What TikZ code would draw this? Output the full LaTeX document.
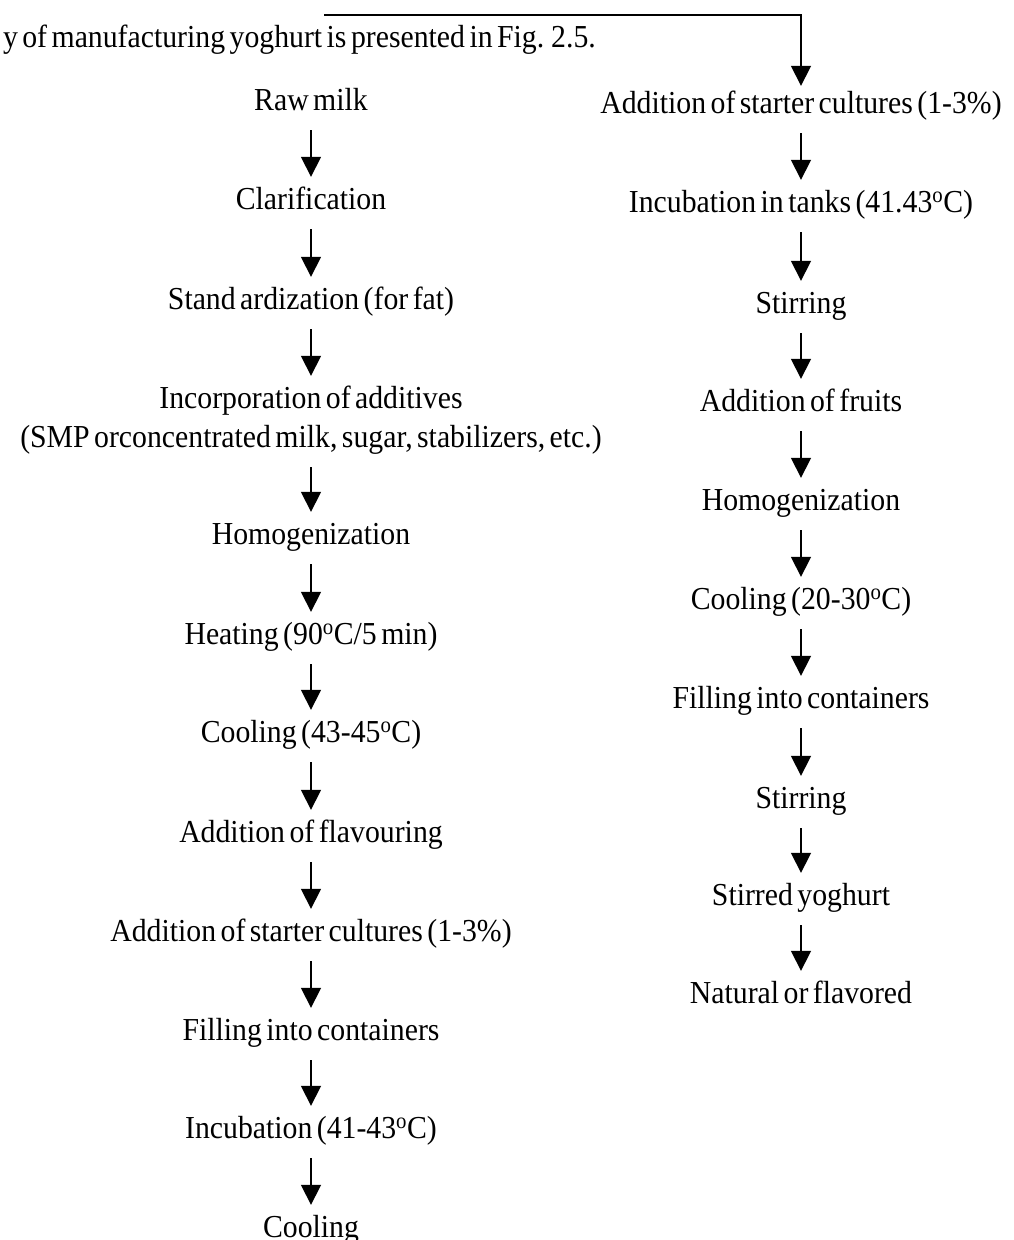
\documentclass[tikz,border=0pt]{standalone}
\usepackage{fontspec}
\setmainfont{Liberation Serif}[WordSpace=0.6, FakeStretch=0.93]
\usetikzlibrary{arrows.meta}
\newcommand{\dg}{\textsuperscript{o}}
\begin{document}
\begin{tikzpicture}[x=1pt,y=-1pt,
  txt/.style={inner sep=0pt, anchor=base, text height=22pt, text depth=0pt,
    font=\fontsize{32}{38}\selectfont},
  flow/.style={line width=1.7pt, -{Triangle[width=20pt,length=20pt]},
    shorten <=20pt, shorten >=10pt},
  link/.style={line width=1.7pt, -{Triangle[width=20pt,length=20pt]}, shorten >=5pt}]
\useasboundingbox (0,0) rectangle (1013,1240);
% intro text
\node[txt, anchor=base east] (intro) at (596,47) {y of manufacturing yoghurt is presented in Fig. 2.5.};
% left column
\node[txt] (l1) at (311,110) {Raw milk};
\node[txt] (l2) at (311,209) {Clarification};
\node[txt] (l3) at (311,309) {Stand ardization (for fat)};
\node[txt] (l4) at (311,408) {Incorporation of additives};
\node[txt] (l4b) at (311,447) {(SMP orconcentrated milk, sugar, stabilizers, etc.)};
\node[txt] (l5) at (311,544) {Homogenization};
\node[txt] (l6) at (311,644) {Heating (90\dg C/5 min)};
\node[txt] (l7) at (311,742) {Cooling (43-45\dg C)};
\node[txt] (l8) at (311,842) {Addition of flavouring};
\node[txt] (l9) at (311,941) {Addition of starter cultures (1-3\%)};
\node[txt] (l10) at (311,1040) {Filling into containers};
\node[txt] (l11) at (311,1138) {Incubation (41-43\dg C)};
\node[txt] (l12) at (311,1237) {Cooling};
\draw[flow] (l1.south) -- (l2.north);
\draw[flow] (l2.south) -- (l3.north);
\draw[flow] (l3.south) -- (l4.north);
\draw[flow] (l4b.south) -- (l5.north);
\draw[flow] (l5.south) -- (l6.north);
\draw[flow] (l6.south) -- (l7.north);
\draw[flow] (l7.south) -- (l8.north);
\draw[flow] (l8.south) -- (l9.north);
\draw[flow] (l9.south) -- (l10.north);
\draw[flow] (l10.south) -- (l11.north);
\draw[flow] (l11.south) -- (l12.north);
% right column
\node[txt] (r1) at (801,113) {Addition of starter cultures (1-3\%)};
\node[txt] (r2) at (801,212) {Incubation in tanks (41.43\dg C)};
\node[txt] (r3) at (801,313) {Stirring};
\node[txt] (r4) at (801,411) {Addition of fruits};
\node[txt] (r5) at (801,510) {Homogenization};
\node[txt] (r6) at (801,609) {Cooling (20-30\dg C)};
\node[txt] (r7) at (801,708) {Filling into containers};
\node[txt] (r8) at (801,808) {Stirring};
\node[txt] (r9) at (801,905) {Stirred yoghurt};
\node[txt] (r10) at (801,1003) {Natural or flavored};
\draw[flow] (r1.south) -- (r2.north);
\draw[flow] (r2.south) -- (r3.north);
\draw[flow] (r3.south) -- (r4.north);
\draw[flow] (r4.south) -- (r5.north);
\draw[flow] (r5.south) -- (r6.north);
\draw[flow] (r6.south) -- (r7.north);
\draw[flow] (r7.south) -- (r8.north);
\draw[flow] (r8.south) -- (r9.north);
\draw[flow] (r9.south) -- (r10.north);
% top connector
\coordinate (tstart) at (324,15);
\draw[link] (tstart) -| (r1.north);
\end{tikzpicture}
\end{document}
